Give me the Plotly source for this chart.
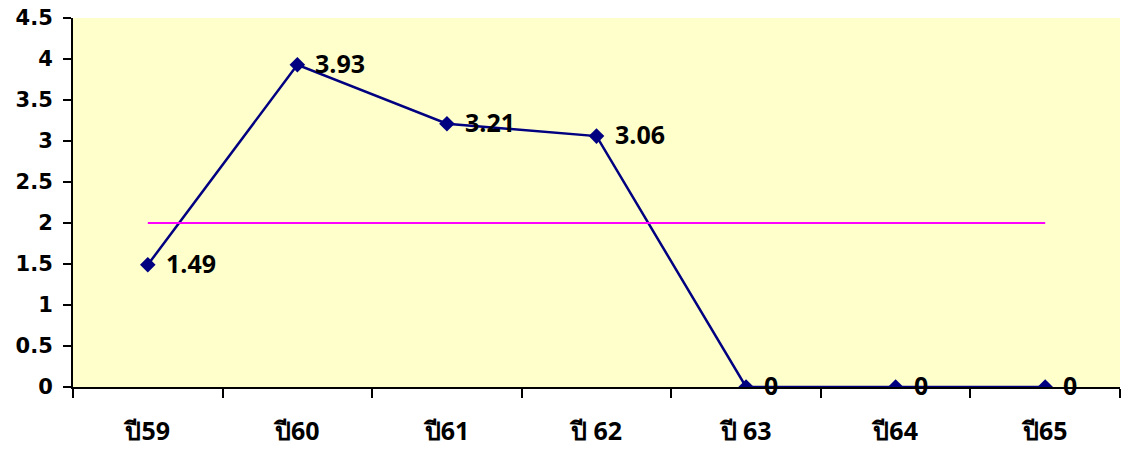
import plotly.graph_objects as go

# Yearly values and the reference level
years = ["ปี59", "ปี60", "ปี61", "ปี 62", "ปี 63", "ปี64", "ปี65"]
values = [1.49, 3.93, 3.21, 3.06, 0, 0, 0]
target = 2
y_ticks = [0, 0.5, 1, 1.5, 2, 2.5, 3, 3.5, 4, 4.5]

label_font = "Open Sans, Noto Sans, sans-serif"
axis_font = "DejaVu Sans, Noto Sans, sans-serif"

fig = go.Figure()

# Main series
fig.add_trace(go.Scatter(
    x=years,
    y=values,
    mode="lines+markers",
    line=dict(color="#000080", width=2.5),
    marker=dict(symbol="diamond", size=12, color="#000080"),
    showlegend=False,
))

# Reference level drawn across all years
fig.add_trace(go.Scatter(
    x=[years[0], years[-1]],
    y=[target, target],
    mode="lines",
    line=dict(color="#FF00FF", width=2),
    hoverinfo="skip",
    showlegend=False,
))

# Value labels to the right of each point
for year, v in zip(years, values):
    fig.add_annotation(
        x=year, y=v, text=f"{v:g}",
        showarrow=False, xanchor="left", yanchor="middle",
        xshift=16, yshift=2,
        font=dict(family=label_font, size=25, color="black", weight="bold"),
    )

fig.update_layout(
    width=1124,
    height=450,
    margin=dict(l=73, r=4, t=18, b=63),
    paper_bgcolor="white",
    plot_bgcolor="#FFFFCC",
    font=dict(family=label_font, color="black"),
)

fig.update_xaxes(
    type="category",
    categoryorder="array",
    categoryarray=years,
    range=[-0.5, len(years) - 0.5],
    showgrid=False,
    showline=True,
    linecolor="black",
    linewidth=2,
    ticks="outside",
    tickson="boundaries",
    ticklen=9,
    tickwidth=2,
    tickcolor="black",
    ticklabelstandoff=21,
    tickfont=dict(family=label_font, size=25, color="black", weight="bold"),
    zeroline=False,
)

fig.update_yaxes(
    range=[0, 4.5],
    tickvals=y_ticks,
    ticktext=[f"{t:g}" for t in y_ticks],
    showgrid=False,
    showline=True,
    linecolor="black",
    linewidth=2,
    ticks="outside",
    ticklen=8,
    tickwidth=2,
    tickcolor="black",
    ticklabelstandoff=6,
    tickfont=dict(family=axis_font, size=21, color="black", weight="bold"),
    zeroline=False,
)

fig.write_html("out.html")
